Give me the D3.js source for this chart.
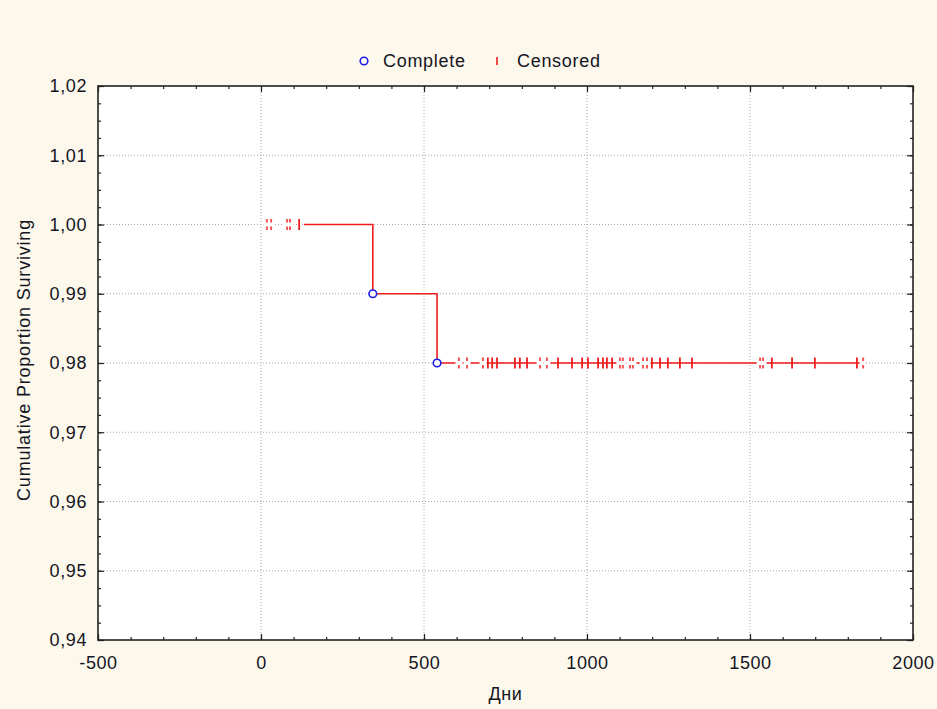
<!DOCTYPE html>
<html>
<head>
<meta charset="utf-8">
<script src="https://cdn.jsdelivr.net/npm/d3@7"></script>
<style>
  body { margin: 0; background: #fdf8ec; }
  text { font-family: "Liberation Sans", Arial, sans-serif; fill: #15151f; }
</style>
</head>
<body>
<div id="chart"></div>
<script>
const W = 937, H = 709;
const margin = { top: 86, right: 24, bottom: 69, left: 98 };
const width = W - margin.left - margin.right;
const height = H - margin.top - margin.bottom;

// Kaplan-Meier step curve (days, proportion surviving)
const curveTimes = [132, 343, 540, 1859];
const curveSurv = [1.00, 0.99, 0.98, 0.98];

// complete (event) observations
const completeTimes = [343, 540];
const completeSurv = [0.99, 0.98];

// censored observations at S = 1.00
const censoredTop = [117];
const censoredTopTied = [18, 31, 80, 89];
// censored observations at S = 0.98
const censoredLow = [696, 709, 724, 779, 794, 816, 911, 954, 985, 1003, 1034, 1049, 1061, 1077,
  1199, 1224, 1248, 1285, 1322, 1567, 1629, 1699, 1828];
const censoredLowTied = [607, 632, 681, 856, 877, 1101, 1110, 1132, 1141, 1172, 1184, 1531, 1540, 1847];

const xTicks = [-500, 0, 500, 1000, 1500, 2000];
const yTicks = [0.94, 0.95, 0.96, 0.97, 0.98, 0.99, 1.00, 1.01, 1.02];

const red = '#ee1c1c';
const blue = '#1c1ce6';

const locale = d3.formatLocale({ decimal: ',', thousands: '', grouping: [3], currency: ['', ''], minus: '-' });
const fmtY = locale.format('.2f');
const fmtX = locale.format('d');

const svg = d3.select('#chart').append('svg')
  .attr('width', W)
  .attr('height', H);

svg.append('rect').attr('width', W).attr('height', H).attr('fill', '#fdf8ec');

const g = svg.append('g')
  .attr('transform', `translate(${margin.left},${margin.top})`);

const x = d3.scaleLinear().domain([-500, 2000]).range([0, width]);
const y = d3.scaleLinear().domain([0.94, 1.02]).range([height, 0]);

g.append('rect').attr('width', width).attr('height', height).attr('fill', '#fff');

// grid
g.append('g').selectAll('line')
  .data(xTicks.slice(1, -1))
  .join('line')
  .attr('x1', d => x(d)).attr('x2', d => x(d))
  .attr('y1', 0).attr('y2', height)
  .attr('stroke', '#a8a8a8').attr('stroke-dasharray', '1,2');

g.append('g').selectAll('line')
  .data(yTicks.slice(1, -1))
  .join('line')
  .attr('y1', d => y(d)).attr('y2', d => y(d))
  .attr('x1', 0).attr('x2', width)
  .attr('stroke', '#a8a8a8').attr('stroke-dasharray', '1,2');

// axes: major ticks inside, minor ticks inside
const xMinor = d3.range(-500, 2001, 100);
const yMinor = d3.range(0, 33).map(i => 0.94 + i * 0.0025);

function styleAxis(sel) {
  sel.select('.domain').remove();
  sel.selectAll('line').attr('stroke', '#222').attr('stroke-width', 1.2);
  sel.selectAll('text').style('font-size', '18px').style('letter-spacing', '0.6px').attr('fill', '#15151f');
}

g.append('g').attr('transform', `translate(0,${height})`)
  .call(d3.axisBottom(x).tickValues(xMinor).tickSize(-3).tickFormat(''))
  .call(styleAxis);
g.append('g').attr('transform', `translate(0,${height})`)
  .call(d3.axisBottom(x).tickValues(xTicks).tickSize(-6).tickPadding(16).tickFormat(fmtX))
  .call(styleAxis);
g.append('g')
  .call(d3.axisTop(x).tickValues(xMinor).tickSize(-3).tickFormat(''))
  .call(styleAxis);
g.append('g')
  .call(d3.axisTop(x).tickValues(xTicks).tickSize(-6).tickFormat(''))
  .call(styleAxis);

g.append('g')
  .call(d3.axisLeft(y).tickValues(yMinor).tickSize(-3).tickFormat(''))
  .call(styleAxis);
g.append('g')
  .call(d3.axisLeft(y).tickValues(yTicks).tickSize(-6).tickPadding(11).tickFormat(fmtY))
  .call(styleAxis);
g.append('g').attr('transform', `translate(${width},0)`)
  .call(d3.axisRight(y).tickValues(yMinor).tickSize(-3).tickFormat(''))
  .call(styleAxis);
g.append('g').attr('transform', `translate(${width},0)`)
  .call(d3.axisRight(y).tickValues(yTicks).tickSize(-6).tickFormat(''))
  .call(styleAxis);

// frame
g.append('rect').attr('width', width).attr('height', height)
  .attr('fill', 'none').attr('stroke', '#222').attr('stroke-width', 1.6);

// survival step line
const line = d3.line()
  .x(d => x(d))
  .y((d, i) => y(curveSurv[i]))
  .curve(d3.curveStepAfter);

g.append('path')
  .datum(curveTimes)
  .attr('d', line)
  .attr('fill', 'none')
  .attr('stroke', red)
  .attr('stroke-width', 1.6);

// censored marks
const censored = [
  ...censoredTop.map(t => ({ t, s: 1.00, tied: false })),
  ...censoredTopTied.map(t => ({ t, s: 1.00, tied: true })),
  ...censoredLow.map(t => ({ t, s: 0.98, tied: false })),
  ...censoredLowTied.map(t => ({ t, s: 0.98, tied: true }))
];

const cg = g.append('g');
cg.selectAll('rect')
  .data(censored.filter(d => d.tied))
  .join('rect')
  .attr('x', d => x(d.t) - 3.5)
  .attr('y', d => y(d.s) - 2)
  .attr('width', 7)
  .attr('height', 4)
  .attr('fill', '#fff');

cg.selectAll('line')
  .data(censored)
  .join('line')
  .attr('x1', d => x(d.t)).attr('x2', d => x(d.t))
  .attr('y1', d => y(d.s) - 5.5).attr('y2', d => y(d.s) + 5.5)
  .attr('stroke', red)
  .attr('stroke-width', d => d.tied ? 2 : 1.8)
  .attr('stroke-opacity', d => d.tied ? 0.75 : 1)
  .attr('stroke-dasharray', d => d.tied ? '3.5,4' : null);

// complete marks
g.append('g').selectAll('circle')
  .data(completeTimes)
  .join('circle')
  .attr('cx', d => x(d))
  .attr('cy', (d, i) => y(completeSurv[i]))
  .attr('r', 3.8)
  .attr('fill', '#fff')
  .attr('stroke', blue)
  .attr('stroke-width', 1.6);

// legend
const legend = svg.append('g');
legend.append('circle')
  .attr('cx', 364).attr('cy', 61).attr('r', 3.8)
  .attr('fill', '#fff').attr('stroke', blue).attr('stroke-width', 1.6);
legend.append('text')
  .attr('x', 383).attr('y', 67)
  .style('font-size', '18px').style('letter-spacing', '0.7px')
  .text('Complete');
legend.append('line')
  .attr('x1', 497).attr('x2', 497).attr('y1', 57).attr('y2', 65)
  .attr('stroke', red).attr('stroke-width', 1.6);
legend.append('text')
  .attr('x', 517).attr('y', 67)
  .style('font-size', '18px').style('letter-spacing', '0.7px')
  .text('Censored');

// axis titles
svg.append('text')
  .attr('x', margin.left + width / 2)
  .attr('y', 700)
  .attr('text-anchor', 'middle')
  .style('font-size', '18px').style('letter-spacing', '0.6px')
  .text('Дни');

svg.append('text')
  .attr('transform', `translate(30,${margin.top + height / 2 - 3}) rotate(-90)`)
  .attr('text-anchor', 'middle')
  .style('font-size', '18px').style('letter-spacing', '0.8px')
  .text('Cumulative Proportion Surviving');
</script>
</body>
</html>
